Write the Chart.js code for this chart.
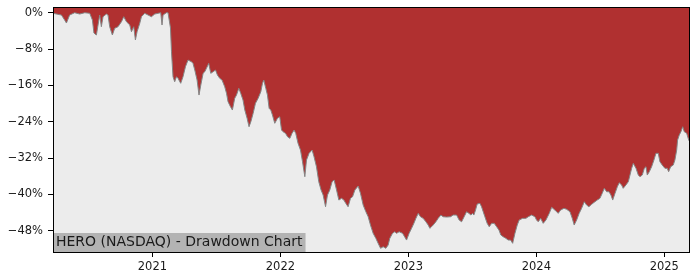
<!DOCTYPE html>
<html>
<head>
<meta charset="utf-8">
<script src="https://cdn.jsdelivr.net/npm/chart.js@4/dist/chart.umd.min.js"></script>
<style>
  html, body { margin: 0; padding: 0; background: #ffffff; }
  #wrap { width: 700px; height: 280px; position: relative; }
</style>
</head>
<body>
<div id="wrap"><canvas id="c"></canvas></div>
<script>
// Dates as decimal years
const dates = [
  2020.223, 2020.289, 2020.314, 2020.328, 2020.353, 2020.392, 2020.432, 2020.471, 2020.510, 2020.531,
  2020.543, 2020.562, 2020.575, 2020.588, 2020.601, 2020.614, 2020.640, 2020.653, 2020.666, 2020.687,
  2020.705, 2020.731, 2020.758, 2020.776, 2020.797, 2020.823, 2020.836, 2020.854, 2020.867, 2020.880,
  2020.901, 2020.914, 2020.940, 2020.966, 2020.992, 2021.018, 2021.044, 2021.065, 2021.075, 2021.083,
  2021.109, 2021.122, 2021.141, 2021.149, 2021.161, 2021.174, 2021.188, 2021.200, 2021.221, 2021.239,
  2021.258, 2021.278, 2021.305, 2021.317, 2021.331, 2021.349, 2021.364, 2021.378, 2021.396, 2021.409,
  2021.422, 2021.440, 2021.456, 2021.474, 2021.493, 2021.508, 2021.526, 2021.544, 2021.565, 2021.579,
  2021.591, 2021.610, 2021.625, 2021.643, 2021.657, 2021.675, 2021.690, 2021.708, 2021.722, 2021.740,
  2021.755, 2021.769, 2021.787, 2021.805, 2021.826, 2021.847, 2021.860, 2021.870, 2021.886, 2021.899,
  2021.912, 2021.925, 2021.938, 2021.956, 2021.977, 2021.995, 2022.009, 2022.021, 2022.040, 2022.056,
  2022.074, 2022.091, 2022.107, 2022.120, 2022.138, 2022.157, 2022.173, 2022.191, 2022.204, 2022.224,
  2022.248, 2022.263, 2022.282, 2022.300, 2022.318, 2022.334, 2022.353, 2022.368, 2022.386, 2022.404,
  2022.420, 2022.439, 2022.457, 2022.478, 2022.496, 2022.511, 2022.529, 2022.548, 2022.564, 2022.582,
  2022.608, 2022.626, 2022.647, 2022.668, 2022.686, 2022.704, 2022.725, 2022.746, 2022.764, 2022.783,
  2022.803, 2022.824, 2022.842, 2022.855, 2022.876, 2022.894, 2022.908, 2022.928, 2022.955, 2022.986,
  2023.006, 2023.025, 2023.043, 2023.059, 2023.077, 2023.095, 2023.116, 2023.137, 2023.155, 2023.168,
  2023.181, 2023.194, 2023.215, 2023.233, 2023.254, 2023.272, 2023.299, 2023.330, 2023.350, 2023.377,
  2023.397, 2023.416, 2023.436, 2023.455, 2023.473, 2023.489, 2023.502, 2023.512, 2023.525, 2023.538,
  2023.559, 2023.572, 2023.585, 2023.598, 2023.616, 2023.632, 2023.651, 2023.671, 2023.690, 2023.708,
  2023.723, 2023.741, 2023.762, 2023.780, 2023.799, 2023.815, 2023.833, 2023.851, 2023.866, 2023.893,
  2023.919, 2023.937, 2023.963, 2023.989, 2024.002, 2024.015, 2024.034, 2024.054, 2024.075, 2024.101,
  2024.120, 2024.145, 2024.171, 2024.190, 2024.216, 2024.237, 2024.263, 2024.281, 2024.296, 2024.315,
  2024.335, 2024.354, 2024.375, 2024.393, 2024.411, 2024.432, 2024.458, 2024.476, 2024.497, 2024.515,
  2024.531, 2024.550, 2024.568, 2024.583, 2024.597, 2024.615, 2024.633, 2024.648, 2024.667, 2024.679,
  2024.700, 2024.719, 2024.732, 2024.745, 2024.758, 2024.779, 2024.797, 2024.810, 2024.828, 2024.844,
  2024.857, 2024.867, 2024.883, 2024.901, 2024.919, 2024.935, 2024.953, 2024.966, 2024.984, 2025.005,
  2025.023, 2025.034, 2025.050, 2025.070, 2025.083, 2025.097, 2025.104, 2025.117, 2025.130, 2025.144,
  2025.156, 2025.175, 2025.191, 2025.201
];

// Drawdown from running peak, percent
const drawdown = [
  -0.13, -0.51, -1.61, -2.27, -0.51, 0.00, -0.29, 0.00, -0.13, -1.61,
  -4.47, -4.91, -2.71, -0.51, -3.08, -0.88, -0.29, -0.51, -3.08, -4.91,
  -3.44, -3.08, -1.98, -0.88, -1.98, -2.71, -4.19, -3.08, -6.01, -4.19,
  -2.33, -0.88, -0.13, -0.51, -0.88, -0.29, -0.13, 0.00, -2.71, -0.51,
  0.00, 0.00, -3.37, -8.59, -14.10, -15.20, -14.10, -14.45, -15.55, -14.10,
  -11.89, -10.42, -10.79, -11.15, -12.62, -14.82, -18.13, -15.93, -13.35, -13.00,
  -12.25, -11.15, -13.35, -13.00, -12.62, -13.72, -14.45, -14.82, -16.30, -17.75,
  -19.60, -20.70, -21.43, -18.85, -18.13, -16.65, -17.75, -19.23, -21.43, -23.26,
  -25.11, -24.01, -22.16, -19.96, -18.85, -17.40, -15.55, -14.82, -16.65, -18.13,
  -21.06, -21.43, -22.53, -24.36, -23.26, -22.91, -25.84, -26.21, -26.56, -27.31,
  -27.67, -26.56, -25.84, -26.56, -28.77, -30.24, -32.82, -36.12, -32.44, -30.97,
  -30.24, -31.72, -33.92, -37.22, -39.05, -40.15, -42.73, -40.15, -39.05, -37.22,
  -36.85, -39.05, -41.26, -40.88, -41.26, -41.98, -42.73, -40.88, -40.53, -39.05,
  -38.17, -39.78, -42.36, -43.83, -44.93, -46.76, -48.59, -49.69, -50.79, -51.89,
  -51.54, -51.89, -51.17, -49.69, -48.59, -48.24, -48.59, -48.24, -48.59, -50.07,
  -48.59, -47.49, -46.39, -45.29, -44.19, -44.93, -45.29, -46.04, -46.76, -47.49,
  -47.14, -46.76, -46.04, -45.29, -44.56, -44.93, -45.00, -44.93, -44.56, -44.56,
  -45.66, -46.04, -44.93, -43.83, -44.19, -44.56, -44.19, -44.56, -43.46, -42.14,
  -41.98, -42.73, -43.83, -44.93, -46.39, -47.14, -46.39, -46.39, -47.14, -47.86,
  -48.96, -49.34, -49.69, -50.07, -50.07, -50.79, -48.59, -46.76, -45.66, -45.29,
  -45.29, -44.93, -44.56, -44.93, -45.66, -46.04, -45.29, -46.39, -45.66, -44.19,
  -42.86, -43.46, -44.19, -43.46, -43.08, -43.30, -43.83, -45.29, -46.76, -45.66,
  -44.19, -43.08, -41.63, -42.36, -42.73, -42.20, -41.63, -41.26, -40.88, -39.78,
  -38.68, -39.43, -39.43, -40.15, -41.26, -39.78, -38.33, -37.44, -37.95, -38.68,
  -37.95, -37.22, -35.75, -34.27, -33.17, -34.27, -35.75, -36.12, -35.75, -34.27,
  -33.92, -35.75, -35.02, -33.92, -32.44, -30.97, -30.97, -32.82, -33.55, -34.27,
  -34.27, -35.02, -33.92, -33.55, -32.44, -30.24, -28.04, -26.94, -26.21, -25.11,
  -26.21, -26.56, -28.04, -28.50
];

const xTickYears = [2021, 2022, 2023, 2024, 2025];
const yTickValues = [0, -8, -16, -24, -32, -40, -48];
const chartLabel = 'HERO (NASDAQ) - Drawdown Chart';

const FONT = "'DejaVu Sans', sans-serif";

const decor = {
  id: 'decor',
  beforeDraw(chart) {
    const { ctx, chartArea: a } = chart;
    ctx.save();
    ctx.fillStyle = '#ececec';
    ctx.fillRect(a.left, a.top, a.right - a.left, a.bottom - a.top);
    ctx.restore();
  },
  afterDatasetsDraw(chart) {
    const { ctx, chartArea: a } = chart;
    ctx.save();
    // label box
    ctx.font = "14px " + FONT;
    const w = ctx.measureText(chartLabel).width;
    ctx.fillStyle = '#b3b3b3';
    ctx.fillRect(a.left, a.bottom - 19, w + 6, 19);
    ctx.fillStyle = '#1a1a1a';
    ctx.textBaseline = 'alphabetic';
    ctx.textAlign = 'left';
    ctx.fillText(chartLabel, a.left + 3, a.bottom - 6);
    // frame
    ctx.strokeStyle = '#000000';
    ctx.lineWidth = 1;
    ctx.strokeRect(Math.round(a.left) + 0.5, Math.round(a.top) + 0.5,
                   Math.round(a.right - a.left) - 1, Math.round(a.bottom - a.top));
    ctx.restore();
  }
};

new Chart(document.getElementById('c'), {
  type: 'line',
  data: {
    datasets: [{
      data: dates.map((d, i) => ({ x: d, y: drawdown[i] })),
      fill: 'end',
      backgroundColor: '#b03030',
      borderColor: '#858585',
      borderWidth: 1,
      pointRadius: 0,
      tension: 0
    }]
  },
  options: {
    responsive: true,
    maintainAspectRatio: false,
    animation: false,
    layout: { padding: { left: 0, right: 10, top: 7, bottom: 0 } },
    plugins: { legend: { display: false }, tooltip: { enabled: false } },
    scales: {
      x: {
        type: 'linear',
        min: 2020.223,
        max: 2025.201,
        afterBuildTicks: s => { s.ticks = xTickYears.map(v => ({ value: v })); },
        afterFit: s => { s.height = 28; s.paddingLeft = 0; s.paddingRight = 0; },
        border: { display: false },
        grid: { drawOnChartArea: false, drawTicks: true, tickLength: 5, color: '#000000' },
        ticks: {
          color: '#1a1a1a',
          padding: 3,
          maxRotation: 0,
          autoSkip: false,
          font: { family: FONT, size: 11.5 },
          callback: v => String(v)
        }
      },
      y: {
        min: -52.7,
        max: 1.26,
        afterBuildTicks: s => { s.ticks = yTickValues.map(v => ({ value: v })); },
        afterFit: s => { s.width = 53; s.paddingTop = 0; s.paddingBottom = 0; },
        border: { display: false },
        grid: { drawOnChartArea: false, drawTicks: true, tickLength: 5, color: '#000000' },
        ticks: {
          color: '#1a1a1a',
          padding: 5,
          autoSkip: false,
          font: { family: FONT, size: 11.5 },
          callback: v => (v === 0 ? '0%' : '\u2212' + Math.abs(v) + '%')
        }
      }
    }
  },
  plugins: [decor]
});
</script>
</body>
</html>
